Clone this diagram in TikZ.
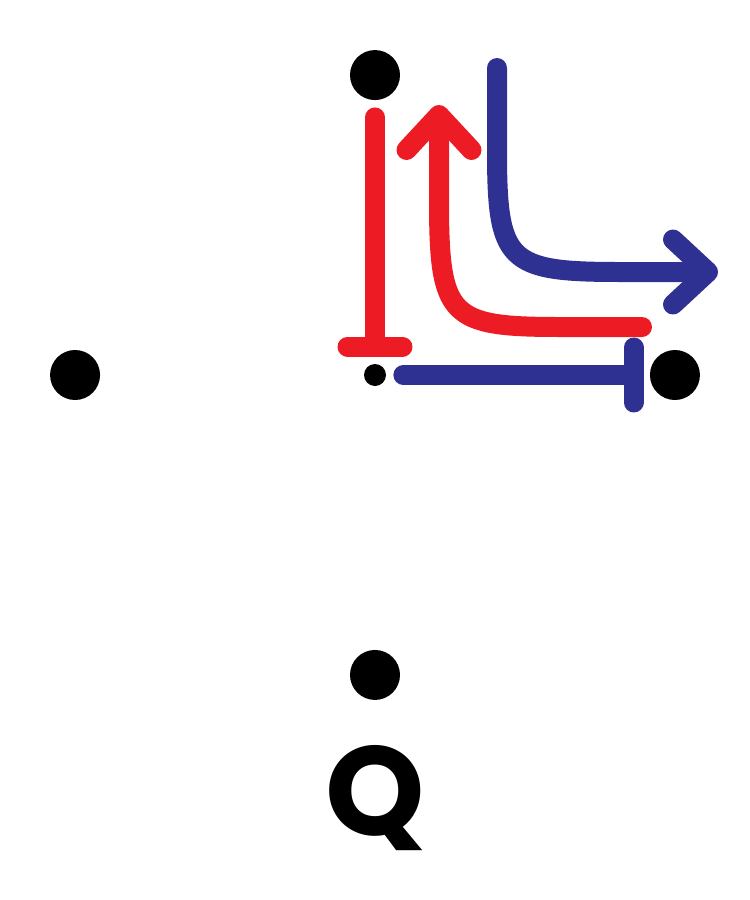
\documentclass[tikz,border=0pt]{standalone}
\usepackage{fontspec}
\setsansfont{Poppins}
\usepackage{xcolor}
\usetikzlibrary{arrows.meta, positioning}
\definecolor{redc}{HTML}{ED1C24}
\definecolor{bluec}{HTML}{2E3192}
\tikzset{
  dot/.style={circle, fill=black, inner sep=0pt, minimum size=1cm},
  sdot/.style={circle, fill=black, inner sep=0pt, minimum size=4.4mm},
  rl/.style={draw=redc, line width=4mm, line cap=round},
  bl/.style={draw=bluec, line width=4mm, line cap=round},
  barb/.style={-{Straight Barb[length=7mm, width=13mm, round]}},
  tbar/.style={-{Bar[width=11mm, round]}},
  lbl/.style={font=\sffamily\bfseries\fontsize{72}{72}\selectfont, inner sep=0pt}
}
\begin{document}
\begin{tikzpicture}[x=0.02cm, y=-0.02cm, node distance=6cm, on grid]
\useasboundingbox (0,0) rectangle (750,900);
\node[sdot] (c) at (375,375) {};
\node[dot, above=of c] (n) {};
\node[dot, left=of c] (w) {};
\node[dot, right=of c] (e) {};
\node[dot, below=of c] (s) {};
\node[lbl] (q) at (375,798) {Q};
\coordinate (r0) at (642,327);
\coordinate (r1) at (439,105);
\coordinate (b0) at (497,68);
\coordinate (b1) at (718,272);
\draw[rl, tbar, shorten <=3.4mm, shorten >=1.4mm] (n) -- (c);
\draw[bl, tbar, shorten <=3.4mm, shorten >=1.2mm] (c) -- (e);
\draw[rl, barb] (r0) -- (560,327) .. controls (449,327) and (439,317) .. (439,200) -- (r1);
\draw[bl, barb] (b0) -- (497,150) .. controls (497,262) and (507,272) .. (620,272) -- (b1);
\end{tikzpicture}
\end{document}
